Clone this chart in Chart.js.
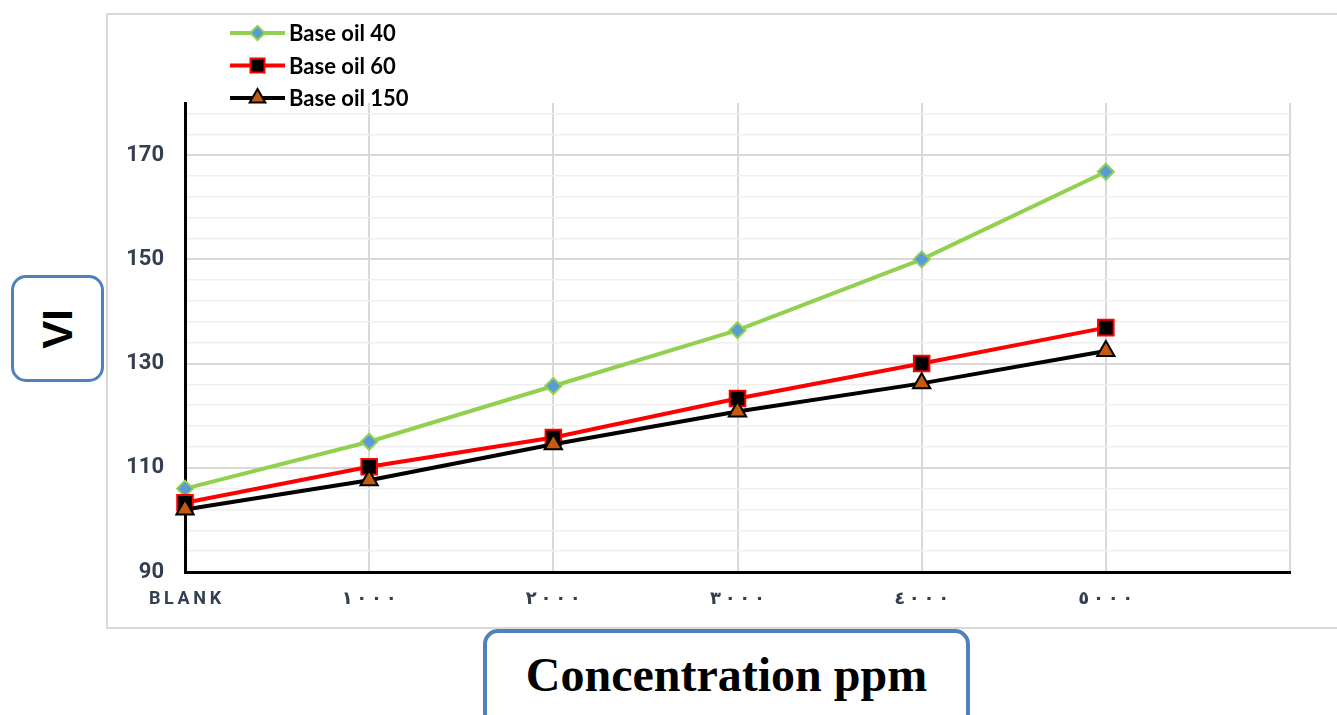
<!DOCTYPE html>
<html lang="en">
<head>
    <meta charset="UTF-8">
    <title>VI vs Concentration</title>
    <script src="https://cdn.jsdelivr.net/npm/chart.js"></script>
    <style>
        html, body {
            margin: 0;
            padding: 0;
            background: #fff;
        }
        #wrap {
            position: relative;
            width: 1337px;
            height: 715px;
            overflow: hidden;
        }
        #frame {
            position: absolute;
            left: 106px;
            top: 13px;
            width: 1300px;
            height: 612px;
            border: 2px solid #d9d9d9;
        }
        #chart-box {
            position: absolute;
            left: 0;
            top: 0;
            width: 1337px;
            height: 715px;
        }
        .label-box {
            position: absolute;
            border: 3px solid #4f81bd;
            border-radius: 15px;
            background: #fff;
            display: flex;
            align-items: center;
            justify-content: center;
            box-sizing: border-box;
        }
        #vi-box {
            left: 11px;
            top: 275px;
            width: 93px;
            height: 107px;
        }
        #vi-box span {
            transform: rotate(-90deg);
            font-family: "Liberation Sans", Arial, sans-serif;
            font-weight: bold;
            font-size: 42px;
            color: #000;
        }
        #conc-box {
            left: 483px;
            top: 629px;
            width: 487px;
            height: 100px;
            border-width: 4px;
            align-items: flex-start;
        }
        #conc-box span {
            margin-top: 14px;
            font-family: "Liberation Serif", "Times New Roman", serif;
            font-weight: bold;
            font-size: 48px;
            color: #000;
        }
    </style>
</head>
<body>
    <div id="wrap">
        <div id="frame"></div>
        <div id="chart-box">
            <canvas id="viChart" width="1337" height="715"></canvas>
        </div>
        <div class="label-box" id="vi-box"><span>VI</span></div>
        <div class="label-box" id="conc-box"><span>Concentration ppm</span></div>
    </div>

    <script>
        // categories (last one is an empty slot so the plot runs one step further)
        const categories = ['BLANK', '١٠٠٠', '٢٠٠٠', '٣٠٠٠', '٤٠٠٠', '٥٠٠٠', ''];

        // VI values
        const baseOil40 = [106, 115, 125.7, 136.4, 150, 166.8];
        const baseOil60 = [103.3, 110.2, 115.8, 123.3, 130, 136.9];
        const baseOil150 = [102, 107.6, 114.5, 120.8, 126.2, 132.4];

        const seriesNames = ['Base oil 40', 'Base oil 60', 'Base oil 150'];

        // y axis labels
        const yTickLabels = [90, 110, 130, 150, 170];
        const yMin = 90;
        const yMax = 180;
        const yMinorStep = 4;

        const tickColor = '#333f50';

        // draw a marker shape, used for the legend
        function drawMarker(ctx, style, x, y, r) {
            ctx.beginPath();
            if (style === 'rectRot') {
                ctx.moveTo(x - r, y);
                ctx.lineTo(x, y - r);
                ctx.lineTo(x + r, y);
                ctx.lineTo(x, y + r);
            } else if (style === 'rect') {
                const s = Math.SQRT1_2 * r;
                ctx.rect(x - s, y - s, 2 * s, 2 * s);
            } else if (style === 'triangle') {
                for (let i = 0; i < 3; i++) {
                    const a = i * 2 * Math.PI / 3;
                    const px = x + Math.sin(a) * r;
                    const py = y - Math.cos(a) * r;
                    if (i === 0) ctx.moveTo(px, py); else ctx.lineTo(px, py);
                }
            }
            ctx.closePath();
            ctx.fill();
            ctx.stroke();
        }

        // legend: line with a marker in the middle, like the original
        const lineLegend = {
            id: 'lineLegend',
            afterDraw(chart) {
                const ctx = chart.ctx;
                const x0 = 230, x1 = 285, firstY = 33, rowGap = 32.5;
                ctx.save();
                chart.data.datasets.forEach((ds, i) => {
                    const y = firstY + i * rowGap;
                    ctx.strokeStyle = ds.borderColor;
                    ctx.lineWidth = ds.borderWidth;
                    ctx.beginPath();
                    ctx.moveTo(x0, y);
                    ctx.lineTo(x1, y);
                    ctx.stroke();

                    ctx.fillStyle = ds.pointBackgroundColor;
                    ctx.strokeStyle = ds.pointBorderColor;
                    ctx.lineWidth = ds.pointBorderWidth;
                    drawMarker(ctx, ds.pointStyle, (x0 + x1) / 2, y, ds.pointRadius * 0.9);

                    ctx.fillStyle = '#000';
                    ctx.font = 'bold 22px Lato, "Open Sans", sans-serif';
                    ctx.textBaseline = 'middle';
                    ctx.textAlign = 'left';
                    ctx.fillText(ds.label, 289, y + 1);
                });
                ctx.restore();
            }
        };

        const ctx = document.getElementById('viChart').getContext('2d');

        new Chart(ctx, {
            type: 'line',
            data: {
                labels: categories,
                datasets: [
                    {
                        label: seriesNames[0],
                        data: baseOil40,
                        borderColor: '#92d050',
                        borderWidth: 4,
                        pointStyle: 'rectRot',
                        pointRadius: 8,
                        pointBackgroundColor: '#5b9bd5',
                        pointBorderColor: '#92d050',
                        pointBorderWidth: 2,
                        clip: false,
                        order: 3
                    },
                    {
                        label: seriesNames[1],
                        data: baseOil60,
                        borderColor: '#ff0000',
                        borderWidth: 4,
                        pointStyle: 'rect',
                        pointRadius: 11,
                        pointBackgroundColor: '#000000',
                        pointBorderColor: '#ff0000',
                        pointBorderWidth: 2,
                        clip: false,
                        order: 2
                    },
                    {
                        label: seriesNames[2],
                        data: baseOil150,
                        borderColor: '#000000',
                        borderWidth: 4,
                        pointStyle: 'triangle',
                        pointRadius: 10,
                        pointBackgroundColor: '#c55a11',
                        pointBorderColor: '#000000',
                        pointBorderWidth: 2,
                        clip: false,
                        order: 1
                    }
                ]
            },
            options: {
                responsive: false,
                animation: false,
                layout: {
                    padding: { top: 103, right: 47, left: 0, bottom: 0 }
                },
                plugins: {
                    legend: { display: false },
                    tooltip: { enabled: false }
                },
                elements: {
                    line: { tension: 0 }
                },
                scales: {
                    x: {
                        offset: false,
                        grid: {
                            color: '#d9d9d9',
                            lineWidth: 2,
                            drawTicks: false
                        },
                        border: { color: '#000', width: 3 },
                        ticks: {
                            autoSkip: false,
                            maxRotation: 0,
                            padding: 17,
                            color: tickColor,
                            font: { family: 'Roboto, "DejaVu Sans", sans-serif', size: 18, weight: 'bold' },
                            callback: function (value) {
                                // spread the letters out, keep left-to-right order for the Arabic digits
                                return '\u202D' + categories[value].split('').join('\u2009') + '\u202C';
                            }
                        },
                        afterFit(scale) {
                            scale.height = 143;
                        }
                    },
                    y: {
                        min: yMin,
                        max: yMax,
                        grid: {
                            drawTicks: false,
                            color: (c) => yTickLabels.includes(c.tick.value) ? '#d9d9d9' : '#efefef',
                            lineWidth: (c) => yTickLabels.includes(c.tick.value) ? 2 : 1.5
                        },
                        border: { color: '#000', width: 3 },
                        ticks: {
                            autoSkip: false,
                            padding: 21,
                            color: tickColor,
                            font: { family: 'Roboto, sans-serif', size: 22, weight: 'bold' },
                            callback: function (value) {
                                return yTickLabels.includes(value) ? String(value) : '';
                            }
                        },
                        afterBuildTicks(scale) {
                            const t = [];
                            for (let v = yMin; v < yMax; v += yMinorStep) {
                                t.push({ value: v });
                            }
                            scale.ticks = t;
                        },
                        afterFit(scale) {
                            scale.width = 185;
                        }
                    }
                }
            },
            plugins: [lineLegend]
        });
    </script>
</body>
</html>
